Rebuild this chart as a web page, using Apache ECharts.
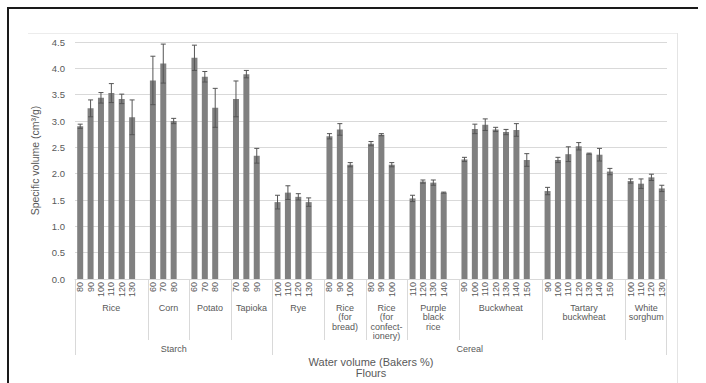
<!DOCTYPE html>
<html>
<head>
<meta charset="utf-8">
<script src="https://cdn.jsdelivr.net/npm/echarts@6/dist/echarts.min.js"></script>
<style>
html,body{margin:0;padding:0;background:#fff;}
#c{width:706px;height:383px;}
</style>
</head>
<body>
<div id="c"></div>
<script>
// ---- data ----
const groupNames = ['Starch', 'Cereal'];
const flourNames = ['Rice', 'Corn', 'Potato', 'Tapioka', 'Rye', 'Rice\n(for\nbread)',
  'Rice\n(for\nconfect-\nionery)', 'Purple\nblack\nrice', 'Buckwheat', 'Tartary\nbuckwheat', 'White\nsorghum'];
const flourGroup = [0, 0, 0, 0, 1, 1, 1, 1, 1, 1, 1];
const waterLevels = [
  [80, 90, 100, 110, 120, 130],
  [60, 70, 80],
  [60, 70, 80],
  [70, 80, 90],
  [100, 110, 120, 130],
  [80, 90, 100],
  [80, 90, 100],
  [110, 120, 130, 140],
  [90, 100, 110, 120, 130, 140, 150],
  [90, 100, 110, 120, 130, 140, 150],
  [100, 110, 120, 130]
];
const volumes = [
  [2.90, 3.24, 3.44, 3.53, 3.42, 3.07],
  [3.77, 4.09, 3.00],
  [4.20, 3.84, 3.25],
  [3.42, 3.89, 2.34],
  [1.46, 1.64, 1.56, 1.46],
  [2.71, 2.84, 2.17],
  [2.57, 2.74, 2.17],
  [1.53, 1.85, 1.83, 1.64],
  [2.27, 2.85, 2.93, 2.84, 2.79, 2.83, 2.26],
  [1.67, 2.26, 2.37, 2.52, 2.38, 2.36, 2.04],
  [1.86, 1.81, 1.93, 1.72]
];
const errors = [
  [0.04, 0.16, 0.10, 0.18, 0.09, 0.33],
  [0.46, 0.37, 0.05],
  [0.24, 0.10, 0.37],
  [0.34, 0.07, 0.14],
  [0.13, 0.13, 0.06, 0.08],
  [0.05, 0.11, 0.04],
  [0.04, 0.02, 0.04],
  [0.06, 0.03, 0.05, 0.01],
  [0.04, 0.09, 0.11, 0.04, 0.05, 0.12, 0.12],
  [0.07, 0.05, 0.14, 0.07, 0.01, 0.12, 0.06],
  [0.04, 0.09, 0.06, 0.06]
];
const yTicks = [0, 0.5, 1.0, 1.5, 2.0, 2.5, 3.0, 3.5, 4.0, 4.5];
const xTitle = 'Water volume (Bakers %)';
const xTitle2 = 'Flours';
const yTitle = 'Specific volume (cm³/g)';

// ---- build category slots (blank slot after each flour, like the source sheet) ----
const categories = [], barData = [], errData = [], flourSpans = [];
flourNames.forEach((f, fi) => {
  const start = categories.length;
  waterLevels[fi].forEach((w, k) => {
    const idx = categories.length;
    categories.push(String(w));
    barData.push(volumes[fi][k]);
    errData.push([idx, volumes[fi][k], errors[fi][k]]);
  });
  if (fi < flourNames.length - 1) { categories.push(''); barData.push('-'); }
  flourSpans.push([start, categories.length - 1]);
});

const chart = echarts.init(document.getElementById('c'), null, {renderer: 'svg'});
const TXT = '#595959';
const GRID = '#d9d9d9';
const FONT = '"Liberation Sans", Arial, sans-serif';

chart.setOption({
  animation: false,
  grid: {left: 75, right: 39, top: 42, bottom: 104},
  xAxis: {
    type: 'category', data: categories,
    axisTick: {show: false},
    axisLine: {show: true, lineStyle: {color: GRID}},
    axisLabel: {rotate: 90, interval: 0, fontSize: 9, color: TXT, margin: 3, fontFamily: FONT}
  },
  yAxis: {
    type: 'value', min: yTicks[0], max: yTicks[yTicks.length - 1], interval: 0.5,
    axisLine: {show: false}, axisTick: {show: false},
    splitLine: {lineStyle: {color: GRID}},
    axisLabel: {fontSize: 9.5, color: TXT, margin: 10, fontFamily: FONT, formatter: v => v.toFixed(1)},
    name: yTitle, nameLocation: 'middle', nameGap: 30,
    nameTextStyle: {fontSize: 10.5, color: TXT, fontFamily: FONT}
  },
  series: [
    {type: 'bar', data: barData, barWidth: 6, itemStyle: {color: '#808080'}},
    {
      type: 'custom', data: errData, z: 5,
      renderItem: (params, api) => {
        const i = api.value(0), v = api.value(1), e = api.value(2);
        const top = api.coord([i, v + e]), bot = api.coord([i, v - e]);
        const x = top[0], hw = 2.5;
        const st = {stroke: '#555555', lineWidth: 1};
        return {type: 'group', children: [
          {type: 'line', shape: {x1: x, y1: top[1], x2: x, y2: bot[1]}, style: st},
          {type: 'line', shape: {x1: x - hw, y1: top[1], x2: x + hw, y2: top[1]}, style: st},
          {type: 'line', shape: {x1: x - hw, y1: bot[1], x2: x + hw, y2: bot[1]}, style: st}
        ]};
      }
    }
  ]
});

// ---- multi-level axis annotations, placed through the axis scales ----
const px = i => chart.convertToPixel({xAxisIndex: 0}, i);
const y0 = chart.convertToPixel({yAxisIndex: 0}, 0);
const bw = px(1) - px(0);
const left = i => px(i) - bw / 2, right = i => px(i) + bw / 2;
const g = [];
const vline = (x, y1, y2) => g.push({type: 'line', shape: {x1: x, y1: y1, x2: x, y2: y2}, style: {stroke: GRID, lineWidth: 1}, silent: true});
const text = (x, y, t, fs, va) => g.push({type: 'text', x: x, y: y, style: {text: t, fill: TXT, fontSize: fs, fontFamily: FONT, align: 'center', verticalAlign: va || 'middle', lineHeight: fs + 0.5}, silent: true});

flourSpans.forEach((s, fi) => {
  const xl = left(s[0]), xr = right(s[1]);
  text((xl + xr) / 2, y0 + 24, flourNames[fi], 9, 'top');
  if (fi > 0 && flourGroup[fi] === flourGroup[fi - 1]) vline(Math.round(xl) + 0.5, y0, y0 + 61);
});
groupNames.forEach((gn, gi) => {
  const idx = flourGroup.map((v, k) => v === gi ? k : -1).filter(k => k >= 0);
  const xl = left(flourSpans[idx[0]][0]), xr = right(flourSpans[idx[idx.length - 1]][1]);
  text((xl + xr) / 2, y0 + 70, gn, 9);
  vline(Math.round(xl) + 0.5, y0, y0 + 76);
  if (gi === groupNames.length - 1) vline(Math.round(xr) - 0.5, y0, y0 + 76);
});
const xc = (left(0) + right(categories.length - 1)) / 2;
text(xc, y0 + 83, xTitle, 11);
text(xc, y0 + 94, xTitle2, 11);

// frame
g.push({type: 'line', shape: {x1: 28, y1: 33.5, x2: 677, y2: 33.5}, style: {stroke: '#ececec', lineWidth: 1}, silent: true});
g.push({type: 'line', shape: {x1: 677.5, y1: 33, x2: 677.5, y2: 383}, style: {stroke: '#e4e4e4', lineWidth: 1}, silent: true});
g.push({type: 'polyline', shape: {points: [[8, 390], [8, 8], [698, 8]]}, style: {stroke: '#1a1a1a', lineWidth: 2, fill: null}, silent: true});

chart.setOption({graphic: {elements: g}});
</script>
</body>
</html>
